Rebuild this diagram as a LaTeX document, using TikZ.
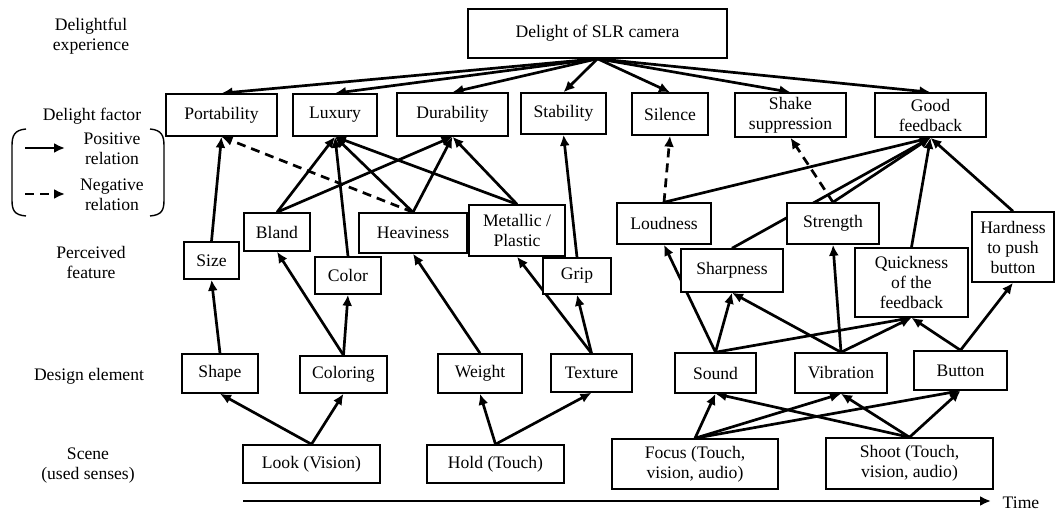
\documentclass[tikz,border=0pt]{standalone}
\usepackage{fontspec}
\setmainfont{Liberation Serif}
\usetikzlibrary{arrows.meta,backgrounds}
\begin{document}
\begin{tikzpicture}[x={(0.5pt,0)},y={(0,-0.5pt)},
  font=\fontsize{8.8}{10}\selectfont,
  box/.style={draw,line width=0.75pt,fill=white,inner sep=1pt,align=center},
  lbl/.style={align=center,inner sep=0pt},
  rel/.style={line width=1.35pt,-{Latex[length=5.5pt,width=5pt]}},
  neg/.style={rel,dash pattern=on 4.5pt off 3pt}]
\useasboundingbox (0,0) rectangle (1056,513);
% left labels
\node[lbl] (l1) at (91,36) {Delightful\\experience};
\node[lbl] (l2) at (92,116) {Delight factor};
\node[lbl] (l3) at (91,262) {Perceived\\feature};
\node[lbl] (l4) at (89,376) {Design element};
\node[lbl] (l5) at (88,466) {Scene\\(used senses)};
% legend
\draw[line width=0.7pt] (26,129) .. controls (14,130) and (12,136) .. (12,146) -- (12,200) .. controls (12,210) and (14,215) .. (26,216);
\draw[line width=0.7pt] (150,129) .. controls (162,130) and (164,136) .. (164,146) -- (164,200) .. controls (164,210) and (162,215) .. (150,216);
\coordinate (pa) at (25,148); \coordinate (pb) at (65,148);
\coordinate (na) at (25,194); \coordinate (nb) at (65,194);
\draw[rel] (pa) -- (pb);
\draw[neg] (na) -- (nb);
\node[lbl] (pos) at (112,149) {Positive\\relation};
\node[lbl] (negt) at (112,195) {Negative\\relation};
% top
\node[box,minimum width=129.5pt,minimum height=24.5pt] (top) at (597.5,33.5) {Delight of SLR camera};
% factors
\node[box,minimum width=55.5pt,minimum height=21pt] (port) at (221.5,115) {Portability};
\node[box,minimum width=42pt,minimum height=21pt] (lux) at (335,115) {Luxury};
\node[box,minimum width=55.5pt,minimum height=21.5pt] (dur) at (452.5,114.5) {Durability};
\node[box,minimum width=42.5pt,minimum height=20.5pt] (stab) at (563.5,113.5) {Stability};
\node[box,minimum width=38pt,minimum height=21pt] (sil) at (670,114) {Silence};
\node[box,minimum width=55.5pt,minimum height=22pt] (shake) at (790.5,115) {Shake\\suppression};
\node[box,minimum width=55.5pt,minimum height=22pt] (good) at (930.5,115) {Good\\feedback};
% perceived features
\node[box,minimum width=27.5pt,minimum height=18.5pt] (size) at (211.5,260.5) {Size};
\node[box,minimum width=33pt,minimum height=19pt] (bland) at (277,232) {Bland};
\node[box,minimum width=33pt,minimum height=18.5pt] (color) at (348,275.5) {Color};
\node[box,minimum width=54pt,minimum height=20pt] (heavy) at (413,233) {Heaviness};
\node[box,minimum width=48pt,minimum height=25.5pt] (metal) at (517,230.5) {Metallic /\\Plastic};
\node[box,minimum width=34pt,minimum height=18pt] (grip) at (577,276) {Grip};
\node[box,minimum width=47pt,minimum height=20.5pt] (loud) at (664,223.5) {Loudness};
\node[box,minimum width=51pt,minimum height=21.5pt] (sharp) at (732,270.5) {Sharpness};
\node[box,minimum width=46pt,minimum height=20.5pt] (str) at (833,223.5) {Strength};
\node[box,minimum width=56.5pt,minimum height=34.5pt] (quick) at (911.5,282.5) {Quickness\\of the\\feedback};
\node[box,minimum width=41pt,minimum height=35pt] (hard) at (1013,247) {Hardness\\to push\\button};
% design elements
\node[box,minimum width=38pt,minimum height=19.5pt] (shape) at (220,373.5) {Shape};
\node[box,minimum width=43.5pt,minimum height=18.5pt] (coloring) at (343.5,374.5) {Coloring};
\node[box,minimum width=42pt,minimum height=19.5pt] (weight) at (480,373.5) {Weight};
\node[box,minimum width=40.5pt,minimum height=19pt] (texture) at (591.5,373) {Texture};
\node[box,minimum width=40.5pt,minimum height=20pt] (sound) at (715.5,373) {Sound};
\node[box,minimum width=46pt,minimum height=20pt] (vib) at (841,373) {Vibration};
\node[box,minimum width=46.5pt,minimum height=19.5pt] (button) at (960.5,370.5) {Button};
% scenes
\node[box,minimum width=68.5pt,minimum height=19pt] (look) at (311.5,464) {Look (Vision)};
\node[box,minimum width=68.5pt,minimum height=19pt] (hold) at (495.5,464) {Hold (Touch)};
\node[box,minimum width=83pt,minimum height=25pt] (focus) at (695,464) {Focus (Touch,\\vision, audio)};
\node[box,minimum width=83.5pt,minimum height=25.5pt] (shoot) at (909.5,463.5) {Shoot (Touch,\\vision, audio)};
% time
\coordinate (ta) at (243,501);
\coordinate (tb) at (991,501);
\draw[rel] (ta) -- (tb);
\node[lbl] (time) at (1021,503) {Time};
% edges
\begin{scope}[on background layer]
\foreach \t in {port,lux,dur,stab,sil,shake,good} \draw[rel] (top.south) -- (\t.north);
\draw[rel] (size.north) -- (port.south);
\draw[rel] (bland.north) -- (lux.south);
\draw[rel] (bland.north) -- (dur.south);
\draw[rel] (color.north) -- (lux.south);
\draw[rel] (heavy.north) -- (lux.south);
\draw[rel] (heavy.north) -- (dur.south);
\draw[neg] (heavy.north) -- (port.south);
\draw[rel] (metal.north) -- (lux.south);
\draw[rel] (metal.north) -- (dur.south);
\draw[rel] (grip.north) -- (stab.south);
\draw[neg] (loud.north) -- (sil.south);
\draw[rel] (loud.north) -- (good.south);
\draw[rel] (sharp.north) -- (good.south);
\draw[rel] (str.north) -- (good.south);
\draw[neg] (str.north) -- (shake.south);
\draw[rel] (quick.north) -- (good.south);
\draw[rel] (hard.north) -- (good.south);
\draw[rel] (shape.north) -- (size.south);
\draw[rel] (coloring.north) -- (bland.south);
\draw[rel] (coloring.north) -- (color.south);
\draw[rel] (weight.north) -- (heavy.south);
\draw[rel] (texture.north) -- (metal.south);
\draw[rel] (texture.north) -- (grip.south);
\draw[rel] (sound.north) -- (loud.south);
\draw[rel] (sound.north) -- (sharp.south);
\draw[rel] (sound.north) -- (quick.south);
\draw[rel] (vib.north) -- (sharp.south);
\draw[rel] (vib.north) -- (str.south);
\draw[rel] (vib.north) -- (quick.south);
\draw[rel] (button.north) -- (quick.south);
\draw[rel] (button.north) -- (hard.south);
\draw[rel] (look.north) -- (shape.south);
\draw[rel] (look.north) -- (coloring.south);
\draw[rel] (hold.north) -- (weight.south);
\draw[rel] (hold.north) -- (texture.south);
\foreach \s in {focus,shoot} \foreach \t in {sound,vib,button} \draw[rel] (\s.north) -- (\t.south);
\end{scope}
\end{tikzpicture}
\end{document}
